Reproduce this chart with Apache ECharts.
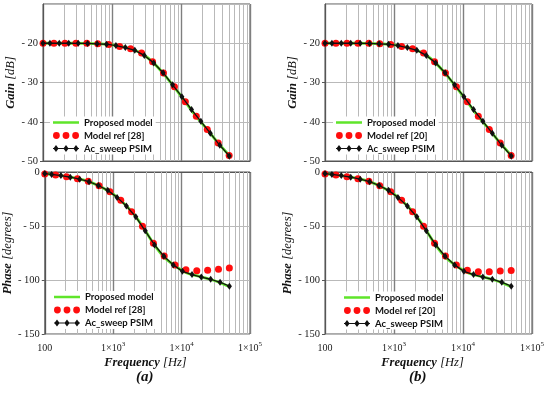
<!DOCTYPE html>
<html>
<head>
<meta charset="utf-8">
<script src="https://cdn.jsdelivr.net/npm/echarts@6/dist/echarts.min.js"></script>
<style>html,body{margin:0;padding:0;background:#fff}#c{width:550px;height:396px}</style>
</head>
<body>
<div id="c"></div>
<script>
// ---- data ----
const freqModel = [100,200,400,700,1000,1400,2000,2800,4000,5600,8000,11500,16500,24000,34500,50000];
const gainModel = [-20,-20,-20.02,-20.15,-20.4,-20.85,-21.6,-22.8,-25.0,-27.8,-31.2,-34.9,-38.6,-42.0,-45.4,-48.6];
const phaseModel = [-1.8,-4,-8,-14.5,-20.5,-28.5,-39,-52,-67.5,-79,-87,-93,-96,-98.7,-101.8,-106.2];

const freqRef = [100,144,208,300,432,622,897,1290,1860,2680,3870,5570,8030,11570,16670,24020,34610,49870];
const gainRef = [-20,-20,-20,-20,-20.02,-20.1,-20.3,-20.8,-21.4,-22.5,-24.7,-27.6,-31.1,-34.9,-38.6,-42.0,-45.4,-48.6];
const phaseRefA = [-1.8,-2.8,-4.3,-6.2,-8.6,-12.7,-18.2,-26.2,-36.7,-50.3,-66,-77.8,-86.1,-90.4,-91.5,-91,-90.1,-88.9];
const phaseRefB = [-1.8,-2.8,-4.3,-6.2,-8.6,-12.7,-18.2,-26.2,-36.7,-50.3,-66,-77.8,-86.1,-91.0,-92.3,-92.3,-91.7,-91.1];

const freqPsim = [100,126,172,236,324,444,608,833,1140,1560,2140,2940,4020,5500,7550,10300,14200,19400,26600,36500,50000];
const gainPsim = [-20,-20,-20,-20,-20.02,-20.05,-20.15,-20.25,-20.6,-21.1,-21.8,-23.1,-25.0,-27.5,-30.6,-33.6,-36.9,-39.9,-42.9,-46.0,-48.7];
const phasePsim = [-1.5,-2.2,-3.3,-4.8,-6.6,-9,-12.5,-17,-23.5,-31.5,-41.5,-54.5,-67.5,-78,-86,-92,-95,-97.3,-99.3,-102.1,-105.7];

const nameModel = 'Proposed model';
const nameRefA = 'Model ref [28]';
const nameRefB = 'Model ref [20]';
const namePsim = 'Ac_sweep PSIM';
const panelTags = ['(a)', '(b)'];

// ---- styling ----
const GREEN = '#5fe52a', RED = '#ff0d0d', BLACK = '#111111';
const SERIF = "'Liberation Serif', 'DejaVu Serif', serif";
const LEGFONT = "'Liberation Sans Narrow', 'Lato', 'Liberation Sans', sans-serif";

const pair = (xs, ys) => xs.map((x, i) => [x, ys[i]]);

const minorLines = [];
[100, 1000, 10000].forEach(d => { for (let m = 2; m <= 9; m++) minorLines.push({ xAxis: m * d }); });

const ICON_LINE = 'path://M0,0L0.01,0L0,0.01Z M26,9L25.99,9L26,8.99Z M0,3.2H26V5.8H0Z';
function circ(cx, cy, r) { return `M${cx - r},${cy}A${r},${r} 0 1,0 ${cx + r},${cy}A${r},${r} 0 1,0 ${cx - r},${cy}Z`; }
const ICON_DOTS = 'path://M0,0L0.01,0L0,0.01Z M26,9L25.99,9L26,8.99Z ' + circ(3.4, 4.5, 3.4) + ' ' + circ(13, 4.5, 3.4) + ' ' + circ(22.6, 4.5, 3.4);
function dia(cx) { return `M${cx},1L${cx + 2.6},4.5L${cx},8L${cx - 2.6},4.5Z`; }
const ICON_DIA = 'path://M0,0L0.01,0L0,0.01Z M26,9L25.99,9L26,8.99Z M0,3.9H26V5.1H0Z ' + dia(3) + ' ' + dia(13) + ' ' + dia(23);

const G = [
  { left: 43, top: 4, width: 207, height: 157 },
  { left: 43, top: 172, width: 207, height: 162 },
  { left: 325, top: 4, width: 207, height: 157 },
  { left: 325, top: 172, width: 207, height: 162 }
];

function xAx(gi, showLabels, nameShift) {
  return {
    type: 'log', logBase: 10, gridIndex: gi, min: 100, max: 100000,
    axisLine: { show: true, lineStyle: { color: '#555', width: 1 } },
    axisTick: { show: false },
    splitLine: { show: true, lineStyle: { color: '#7f7f7f', width: 1.4 } },
    axisLabel: {
      show: showLabels, margin: 7, color: '#1a1a1a', fontFamily: SERIF, fontSize: 10, lineHeight: 14,
      formatter: v => v === 100 ? '100' : '1×10{s|' + Math.round(Math.log10(v)) + '}',
      rich: { s: { fontSize: 7, lineHeight: 14, verticalAlign: 'top', fontFamily: SERIF, color: '#1a1a1a' } }
    },
    name: showLabels ? '{b|Frequency} {r|[Hz]}' : '',
    nameLocation: 'middle', nameGap: 22,
    nameTextStyle: {
      padding: [0, nameShift, 0, 0],
      rich: {
        b: { fontFamily: SERIF, fontSize: 12.5, fontWeight: 'bold', fontStyle: 'italic', color: '#111' },
        r: { fontFamily: SERIF, fontSize: 12.5, fontStyle: 'italic', color: '#111' }
      }
    }
  };
}
function yAx(gi, min, max, interval, nameBold, nameRest, hideMax) {
  return {
    type: 'value', gridIndex: gi, min, max, interval,
    axisLine: { show: true, lineStyle: { color: '#555', width: 1 } },
    axisTick: { show: true, length: 3, lineStyle: { color: '#555' } },
    splitLine: { show: true, lineStyle: { color: '#b9b9b9', width: 1 } },
    axisLabel: {
      margin: 5, color: '#1a1a1a', fontFamily: SERIF, fontSize: 10.5, showMaxLabel: !hideMax,
      formatter: v => (hideMax && v === max) ? '' : (v < 0 ? '- ' + Math.abs(v) : String(v))
    },
    name: '{b|' + nameBold + '} {r|' + nameRest + '}',
    nameLocation: 'middle', nameGap: 23,
    nameTextStyle: {
      rich: {
        b: { fontFamily: SERIF, fontSize: 12.5, fontWeight: 'bold', fontStyle: 'italic', color: '#111' },
        r: { fontFamily: SERIF, fontSize: 12.5, fontStyle: 'italic', color: '#111' }
      }
    }
  };
}

function seriesFor(gi, refYs, psimYs, refName, modelYs) {
  return [
    {
      name: nameModel, type: 'line', xAxisIndex: gi, yAxisIndex: gi,
      data: pair(freqModel, modelYs), smooth: 0.35, showSymbol: false, symbol: 'none',
      lineStyle: { color: GREEN, width: 2.8 }, itemStyle: { color: GREEN }, z: 3, silent: true,
      markLine: {
        silent: true, z: 1, symbol: ['none', 'none'], label: { show: false },
        lineStyle: { type: 'solid', color: '#b9b9b9', width: 1 },
        emphasis: { disabled: true }, animation: false,
        data: minorLines
      }
    },
    {
      name: refName, type: 'scatter', xAxisIndex: gi, yAxisIndex: gi,
      data: pair(freqRef, refYs), symbol: 'circle', symbolSize: 7,
      itemStyle: { color: RED, opacity: 1 }, z: 4, silent: true
    },
    {
      name: namePsim, type: 'line', xAxisIndex: gi, yAxisIndex: gi,
      data: pair(freqPsim, psimYs), symbol: 'diamond', symbolSize: [5, 7], showSymbol: true,
      lineStyle: { color: BLACK, width: 1.3 }, itemStyle: { color: BLACK, opacity: 1 }, z: 5, silent: true
    }
  ];
}

function legendAt(left, top, refName) {
  return {
    orient: 'vertical', left, top, padding: [1, 3], itemGap: 3, itemWidth: 26, itemHeight: 9,
    backgroundColor: '#fff', selectedMode: false,
    textStyle: { fontSize: 9.5, fontWeight: 'bold', fontFamily: LEGFONT, color: '#111' },
    data: [
      { name: nameModel, icon: ICON_LINE, itemStyle: { color: GREEN, borderWidth: 0, opacity: 1 } },
      { name: refName, icon: ICON_DOTS, itemStyle: { color: RED, borderWidth: 0, opacity: 1 } },
      { name: namePsim, icon: ICON_DIA, itemStyle: { color: BLACK, borderWidth: 0, opacity: 1 } }
    ]
  };
}

const option = {
  animation: false,
  backgroundColor: '#fff',
  grid: G.map(g => Object.assign({ show: true, borderColor: '#555', borderWidth: 1, backgroundColor: '#fff', containLabel: false }, g)),
  xAxis: [xAx(0, false, 0), xAx(1, true, 4), xAx(2, false, 0), xAx(3, true, 12)],
  yAxis: [
    yAx(0, -50, -10, 10, 'Gain', '[dB]', true),
    yAx(1, -150, 0, 50, 'Phase', '[degrees]', false),
    yAx(2, -50, -10, 10, 'Gain', '[dB]', true),
    yAx(3, -150, 0, 50, 'Phase', '[degrees]', false)
  ],
  legend: [
    legendAt(50, 116.5, nameRefA),
    legendAt(51, 291, nameRefA),
    legendAt(333, 116.5, nameRefB),
    legendAt(341, 291.5, nameRefB)
  ],
  series: [].concat(
    seriesFor(0, gainRef, gainPsim, nameRefA, gainModel),
    seriesFor(1, phaseRefA, phasePsim, nameRefA, phaseModel),
    seriesFor(2, gainRef, gainPsim, nameRefB, gainModel),
    seriesFor(3, phaseRefB, phasePsim, nameRefB, phaseModel)
  ),
  graphic: [
    { type: 'text', left: 136, top: 370, style: { text: panelTags[0], font: 'bold italic 15px ' + SERIF, fill: '#111' } },
    { type: 'text', left: 409, top: 370, style: { text: panelTags[1], font: 'bold italic 15px ' + SERIF, fill: '#111' } }
  ]
};

const chart = echarts.init(document.getElementById('c'), null, { renderer: 'canvas' });
chart.setOption(option);
</script>
</body>
</html>
